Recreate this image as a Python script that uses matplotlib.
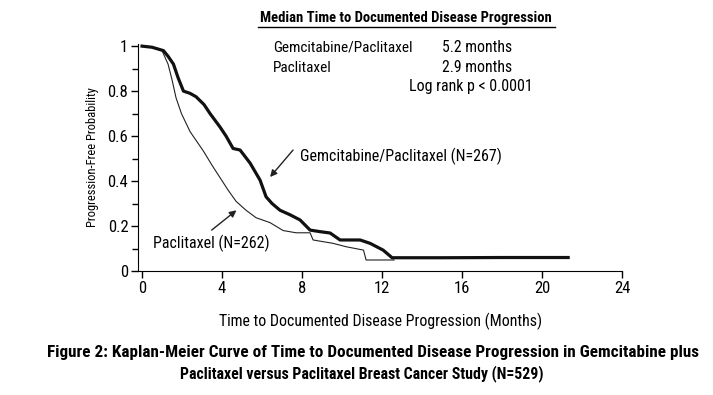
import matplotlib.pyplot as plt
from matplotlib import font_manager
from matplotlib.ticker import MultipleLocator

# Gemcitabine/Paclitaxel (thick curve)
gem_t = [0, 0.5, 1.07, 1.3, 1.57, 1.8, 2.07, 2.4, 2.7, 3.1, 3.4, 3.9, 4.2, 4.55, 4.9, 5.4, 5.9,
         6.2, 6.5, 6.9, 7.4, 7.9, 8.4, 8.9, 9.4, 9.9, 10.4, 10.9, 11.4, 12.05, 12.5, 15, 18, 21.3]
gem_s = [1.0, 0.995, 0.98, 0.955, 0.92, 0.86, 0.80, 0.79, 0.775, 0.74, 0.70, 0.64, 0.6, 0.545, 0.538, 0.48,
         0.404, 0.33, 0.3, 0.27, 0.25, 0.227, 0.182, 0.175, 0.169, 0.138, 0.138, 0.138, 0.123, 0.093, 0.059,
         0.059, 0.06, 0.06]

# Paclitaxel (thin curve)
pac_t = [0, 0.5, 1.0, 1.3, 1.5, 1.7, 1.97, 2.4, 3.07, 3.5, 3.9, 4.3, 4.7, 5.2, 5.7, 6.4, 7.05, 7.7,
         8.4, 8.55, 9.55, 10.2, 11.07, 11.2, 12.6]
pac_s = [1.0, 0.995, 0.98, 0.92, 0.85, 0.77, 0.70, 0.62, 0.533, 0.47, 0.415, 0.36, 0.31, 0.27, 0.237,
         0.215, 0.18, 0.17, 0.17, 0.138, 0.123, 0.108, 0.093, 0.049, 0.049]

x_ticks = [0, 4, 8, 12, 16, 20, 24]
y_ticks = [0, 0.2, 0.4, 0.6, 0.8, 1]
y_labels = ['0', '0.2', '0.4', '0.6', '0.8', '1']

# pick a narrow sans font if one is around, else condensed DejaVu
installed = set(f.name for f in font_manager.fontManager.ttflist)
narrow = None
for name in ['Nimbus Sans Narrow', 'Liberation Sans Narrow', 'Roboto Condensed', 'Archivo Narrow',
             'PT Sans Narrow', 'IBM Plex Sans Condensed', 'Barlow Condensed', 'Open Sans Condensed']:
    if name in installed:
        narrow = name
        break
if narrow:
    plt.rcParams['font.family'] = [narrow, 'DejaVu Sans']
    scale = 1.0
else:
    plt.rcParams['font.family'] = ['DejaVu Sans']
    plt.rcParams['font.stretch'] = 'condensed'
    scale = 0.85

fig = plt.figure(figsize=(7.13, 3.95), dpi=100)
ax = fig.add_axes([0.1936, 0.3139, 0.679, 0.575])

ax.plot(pac_t, pac_s, color='#222222', lw=0.8)
ax.plot(gem_t, gem_s, color='#111111', lw=2.3)

ax.set_xlim(-0.2, 24)
ax.set_ylim(0, 1.01)
ax.set_xticks(x_ticks)
ax.set_yticks(y_ticks)
ax.set_yticklabels(y_labels)
ax.yaxis.set_minor_locator(MultipleLocator(0.1))
ax.tick_params(axis='both', direction='out', labelsize=12 * scale, length=5, width=1, pad=2)
ax.tick_params(axis='y', which='minor', length=4, width=1)
ax.spines['top'].set_visible(False)
ax.spines['right'].set_visible(False)
ax.spines['left'].set_bounds(0, 1.01)

ax.set_xlabel('Time to Documented Disease Progression (Months)', fontsize=11.4 * scale, labelpad=12)
ax.set_ylabel('Progression-Free Probability', fontsize=9 * scale, labelpad=6)

# median box
fig.text(406 / 713, 1 - 18 / 395, 'Median Time to Documented Disease Progression', ha='center', va='center',
         fontsize=10.5 * scale, fontweight='bold')
fig.add_artist(plt.Line2D([258 / 713, 555 / 713], [1 - 27 / 395, 1 - 27 / 395], color='black', lw=1))
fig.text(273 / 713, 1 - 47 / 395, 'Gemcitabine/Paclitaxel', ha='left', va='center', fontsize=11 * scale)
fig.text(442 / 713, 1 - 47 / 395, '5.2 months', ha='left', va='center', fontsize=11.3 * scale)
fig.text(273 / 713, 1 - 68 / 395, 'Paclitaxel', ha='left', va='center', fontsize=11 * scale)
fig.text(442 / 713, 1 - 68 / 395, '2.9 months', ha='left', va='center', fontsize=11.3 * scale)
fig.text(471 / 713, 1 - 87 / 395, 'Log rank p < 0.0001', ha='center', va='center', fontsize=11.5 * scale)

# curve labels with arrows
arrow = dict(arrowstyle='-|>', color='#222222', lw=1, shrinkA=0, shrinkB=0, mutation_scale=10)
ax.text(7.9, 0.51, 'Gemcitabine/Paclitaxel (N=267)', fontsize=11.5 * scale, ha='left', va='center')
ax.annotate('', xy=(6.4, 0.418), xytext=(7.55, 0.538), arrowprops=arrow)
ax.text(0.55, 0.125, 'Paclitaxel (N=262)', fontsize=11.5 * scale, ha='left', va='center')
ax.annotate('', xy=(4.72, 0.27), xytext=(3.48, 0.182), arrowprops=arrow)

fig.text(0.523, 1 - 352 / 395, 'Figure 2: Kaplan-Meier Curve of Time to Documented Disease Progression in Gemcitabine plus',
         ha='center', va='center', fontsize=12.3 * scale, fontweight='bold')
fig.text(0.507, 1 - 374 / 395, 'Paclitaxel versus Paclitaxel Breast Cancer Study (N=529)',
         ha='center', va='center', fontsize=11.4 * scale, fontweight='bold')

fig.savefig('out.png', dpi=100)
